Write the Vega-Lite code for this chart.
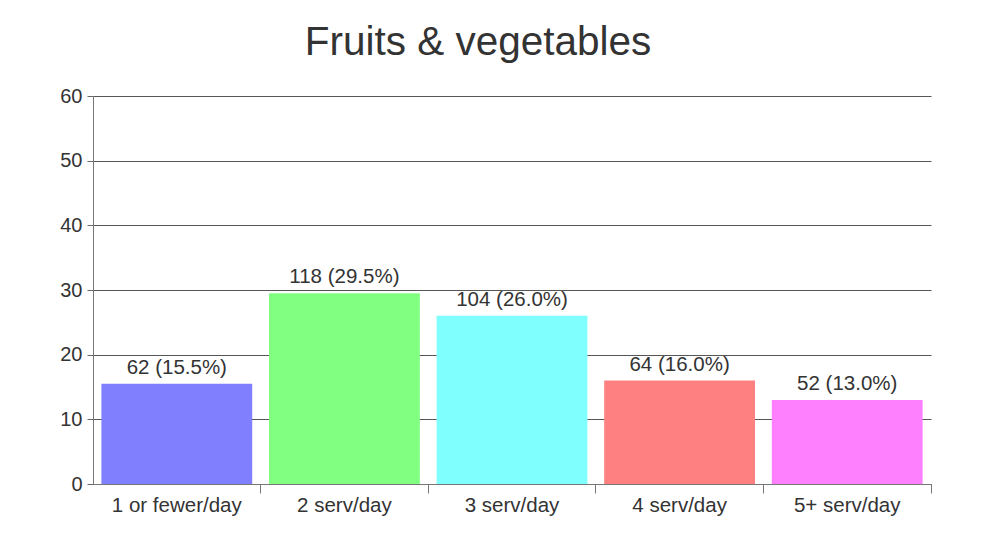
{
  "$schema": "https://vega.github.io/schema/vega-lite/v6.json",
  "autosize": "none",
  "width": 838,
  "height": 388,
  "padding": {"left": 93, "top": 96, "right": 58, "bottom": 59},
  "background": "white",
  "title": {
    "text": "Fruits & vegetables",
    "font": "Liberation Sans",
    "fontSize": 40.5,
    "fontWeight": "normal",
    "color": "#333333",
    "anchor": "middle",
    "dx": -34,
    "baseline": "alphabetic",
    "offset": -9
  },
  "data": {
    "values": [
      {"category": "1 or fewer/day", "percent": 15.5, "label": "62 (15.5%)"},
      {"category": "2 serv/day", "percent": 29.5, "label": "118 (29.5%)"},
      {"category": "3 serv/day", "percent": 26.0, "label": "104 (26.0%)"},
      {"category": "4 serv/day", "percent": 16.0, "label": "64 (16.0%)"},
      {"category": "5+ serv/day", "percent": 13.0, "label": "52 (13.0%)"}
    ]
  },
  "encoding": {
    "x": {
      "field": "category",
      "type": "nominal",
      "sort": null,
      "scale": {"paddingInner": 0.1, "paddingOuter": 0.05},
      "axis": {
        "title": null,
        "labelAngle": 0,
        "labelFont": "Liberation Sans",
        "labelFontSize": 20.5,
        "labelColor": "#333333",
        "labelPadding": 2,
        "bandPosition": 1.0556,
        "tickSize": 9,
        "tickColor": "#777777",
        "domainColor": "#777777",
        "grid": false
      }
    },
    "y": {
      "field": "percent",
      "type": "quantitative",
      "scale": {"domain": [0, 60], "nice": false},
      "axis": {
        "title": null,
        "values": [0, 10, 20, 30, 40, 50, 60],
        "labelFont": "Liberation Sans",
        "labelFontSize": 20,
        "labelColor": "#333333",
        "labelPadding": 5,
        "tickSize": 6,
        "tickColor": "#666666",
        "domainColor": "#777777",
        "grid": true,
        "gridColor": "#555555",
        "gridOpacity": 1
      }
    }
  },
  "layer": [
    {
      "mark": {"type": "bar"},
      "encoding": {
        "color": {
          "field": "category",
          "type": "nominal",
          "sort": null,
          "scale": {"range": ["#8080ff", "#80ff80", "#80ffff", "#ff8080", "#ff80ff"]},
          "legend": null
        }
      }
    },
    {
      "mark": {
        "type": "text",
        "baseline": "alphabetic",
        "dy": -10,
        "font": "Liberation Sans",
        "fontSize": 20.5,
        "color": "#333333"
      },
      "encoding": {"text": {"field": "label"}}
    }
  ],
  "config": {"view": {"stroke": null}}
}
